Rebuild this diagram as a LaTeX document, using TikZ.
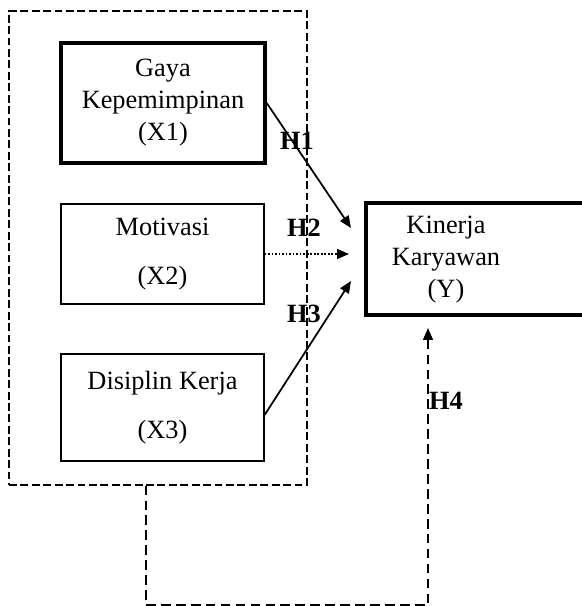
\documentclass[tikz,border=0pt]{standalone}
\usepackage{fontspec}
\setmainfont{Liberation Serif}
\usetikzlibrary{arrows.meta}

\begin{document}
\begin{tikzpicture}[x=0.02cm,y=0.02cm,
  varbox/.style={draw, line width=0.7pt, inner sep=0pt, align=center,
    font=\fontsize{15}{18.2}\selectfont},
  thickbox/.style={varbox, line width=2pt},
  hlabel/.style={font=\fontsize{15}{18}\selectfont\bfseries},
  hyparrow/.style={-{Triangle[length=0.24cm,width=0.2cm]}, line width=1pt}]
  \useasboundingbox (0,0) rectangle (582,606);

  % variables
  \node[draw, dash pattern=on 4.5pt off 2pt, line width=0.7pt, minimum width=5.96cm, minimum height=9.48cm] (group) at (158,358) {};
  \node[thickbox, minimum width=4.08cm, minimum height=2.4cm] (X1) at (163,503) {Gaya\\Kepemimpinan\\(X1)};
  \node[varbox, minimum width=4.06cm, minimum height=2cm] (X2) at (162.5,352) {Motivasi\\[9.7pt](X2)};
  \node[varbox, minimum width=4.06cm, minimum height=2.14cm] (X3) at (162.5,198.5) {Disiplin Kerja\\[9.7pt](X3)};
  \node[thickbox, minimum width=4.52cm, minimum height=2.24cm] (Y) at (479,347) {};
  \node[align=center, font=\fontsize{15}{18.2}\selectfont] (Ytext) at (446,346) {Kinerja\\Karyawan\\(Y)};

  \coordinate (t1) at (351,378);
  \coordinate (t2) at (349,352);
  \coordinate (t3) at (351,325);
  \coordinate (t4) at (428,278);
  \coordinate (c1) at (146,1);
  \coordinate (c2) at (428,1);

  % hypotheses
  \draw[hyparrow] (X1.east) -- (t1);
  \draw[hyparrow, densely dotted] (X2.east) -- (t2);
  \draw[hyparrow] ([yshift=-0.15cm]X3.east) -- (t3);
  \draw[hyparrow, dash pattern=on 5.5pt off 3pt, line width=0.8pt] (group.south -| c1) -- (c1) -- (c2) -- (t4);

  \node[hlabel] (h1) at (297,465) {H1};
  \node[hlabel] (h2) at (304,378) {H2};
  \node[hlabel] (h3) at (304,292) {H3};
  \node[hlabel] (h4) at (446,205) {H4};
\end{tikzpicture}
\end{document}
